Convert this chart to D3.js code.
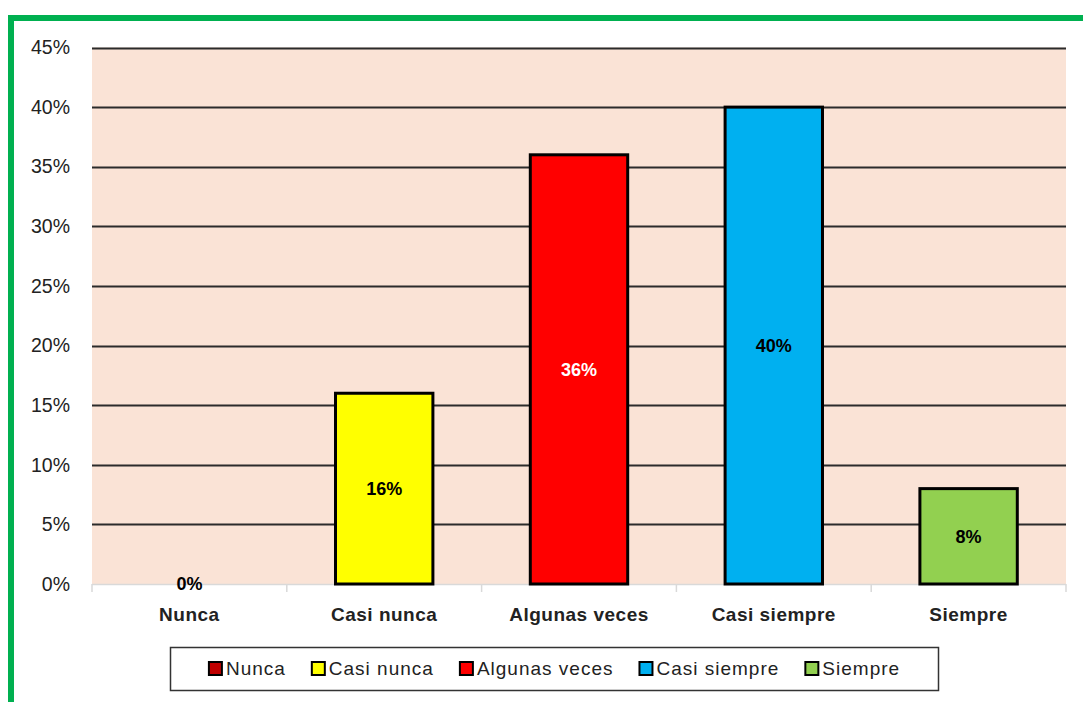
<!DOCTYPE html>
<html>
<head>
<meta charset="utf-8">
<script src="https://cdn.jsdelivr.net/npm/d3@7"></script>
<style>
  html, body { margin: 0; padding: 0; background: #fff; }
  svg { display: block; font-family: "Liberation Sans", Arial, sans-serif; }
</style>
</head>
<body>
<svg id="chart" width="1083" height="702"></svg>
<script>
// Survey responses (share of answers)
const categories = ["Nunca", "Casi nunca", "Algunas veces", "Casi siempre", "Siempre"];
const values = [0, 0.16, 0.36, 0.40, 0.08];
const colors = ["#C00000", "#FFFF00", "#FF0000", "#00B0F0", "#92D050"];
const labelColors = ["#000", "#000", "#fff", "#000", "#000"];
const yTicks = [0, 0.05, 0.10, 0.15, 0.20, 0.25, 0.30, 0.35, 0.40, 0.45];

const svg = d3.select("#chart");
const W = 1083, H = 702;
const plot = { left: 92, right: 1066, top: 47.5, bottom: 584 };

// Green frame (open on the right and bottom edges of the view)
svg.append("path")
  .attr("d", `M11,${H + 10} L11,18 L${W + 10},18`)
  .attr("fill", "none")
  .attr("stroke", "#00B050")
  .attr("stroke-width", 6);

const x = d3.scaleBand().domain(categories).range([plot.left, plot.right]).paddingInner(0.5).paddingOuter(0.25);
const y = d3.scaleLinear().domain([0, 0.45]).range([plot.bottom, plot.top]);

// Plot background
svg.append("rect")
  .attr("x", plot.left).attr("y", plot.top)
  .attr("width", plot.right - plot.left).attr("height", plot.bottom - plot.top)
  .attr("fill", "#FAE3D6");

// Horizontal gridlines
svg.append("g").selectAll("line")
  .data(yTicks.filter(d => d > 0))
  .join("line")
  .attr("x1", plot.left).attr("x2", plot.right)
  .attr("y1", d => Math.round(y(d)) + 0.5).attr("y2", d => Math.round(y(d)) + 0.5)
  .attr("stroke", "#2b2b2b").attr("stroke-width", 2);

// Y axis labels
const yAxis = d3.axisLeft(y).tickValues(yTicks).tickFormat(d3.format(".0%")).tickSize(0).tickPadding(22);
const gy = svg.append("g").attr("transform", `translate(${plot.left},0)`).call(yAxis);
gy.select(".domain").remove();
gy.selectAll("text").attr("font-size", 19.5).attr("fill", "#222").attr("font-family", "Liberation Sans, Arial, sans-serif");

// Category axis baseline and boundary ticks
svg.append("line")
  .attr("x1", plot.left).attr("x2", plot.right)
  .attr("y1", plot.bottom + 0.5).attr("y2", plot.bottom + 0.5)
  .attr("stroke", "#D9D9D9").attr("stroke-width", 1.5);
const step = x.step();
svg.append("g").selectAll("line")
  .data(d3.range(categories.length + 1))
  .join("line")
  .attr("x1", i => plot.left + i * step).attr("x2", i => plot.left + i * step)
  .attr("y1", plot.bottom).attr("y2", plot.bottom + 8)
  .attr("stroke", "#D9D9D9").attr("stroke-width", 1.5);

// Category labels
svg.append("g").selectAll("text")
  .data(categories)
  .join("text")
  .attr("x", d => x(d) + x.bandwidth() / 2)
  .attr("y", 621)
  .attr("text-anchor", "middle")
  .attr("font-size", 19).attr("font-weight", "bold")
  .attr("letter-spacing", 0.5)
  .attr("fill", "#222")
  .text(d => d);

// Bars
svg.append("g").selectAll("rect")
  .data(values.map((v, i) => ({ v, i })).filter(d => d.v > 0))
  .join("rect")
  .attr("x", d => x(categories[d.i]))
  .attr("y", d => y(d.v))
  .attr("width", x.bandwidth())
  .attr("height", d => y(0) - y(d.v))
  .attr("fill", d => colors[d.i])
  .attr("stroke", "#000").attr("stroke-width", 3);

// Value labels
svg.append("g").selectAll("text")
  .data(values.map((v, i) => ({ v, i })))
  .join("text")
  .attr("x", d => x(categories[d.i]) + x.bandwidth() / 2)
  .attr("y", d => (y(d.v) + y(0)) / 2)
  .attr("dy", "0.36em")
  .attr("text-anchor", "middle")
  .attr("font-size", 18).attr("font-weight", "bold")
  .attr("fill", d => labelColors[d.i])
  .text(d => d3.format(".0%")(d.v));

// Legend
const legend = svg.append("g");
legend.append("rect")
  .attr("x", 170.5).attr("y", 647.5).attr("width", 768).attr("height", 43)
  .attr("fill", "#fff").attr("stroke", "#333").attr("stroke-width", 1.5);
const items = legend.selectAll("g.item")
  .data(categories)
  .join("g").attr("class", "item");
items.append("rect")
  .attr("width", 13).attr("height", 13).attr("y", 662)
  .attr("fill", (d, i) => colors[i])
  .attr("stroke", "#000").attr("stroke-width", 2);
items.append("text")
  .attr("y", 675)
  .attr("x", 17)
  .attr("font-size", 19)
  .attr("letter-spacing", 1)
  .attr("fill", "#222")
  .text(d => d);
// Lay items out in a row, centred in the legend box
const gap = 26;
const widths = [];
items.each(function () { widths.push(17 + this.querySelector("text").getComputedTextLength()); });
const total = d3.sum(widths) + gap * (widths.length - 1);
let cx = 170.5 + (768 - total) / 2;
items.each(function (d, i) {
  d3.select(this).select("rect").attr("x", cx);
  d3.select(this).select("text").attr("x", cx + 17);
  cx += widths[i] + gap;
});
</script>
</body>
</html>
